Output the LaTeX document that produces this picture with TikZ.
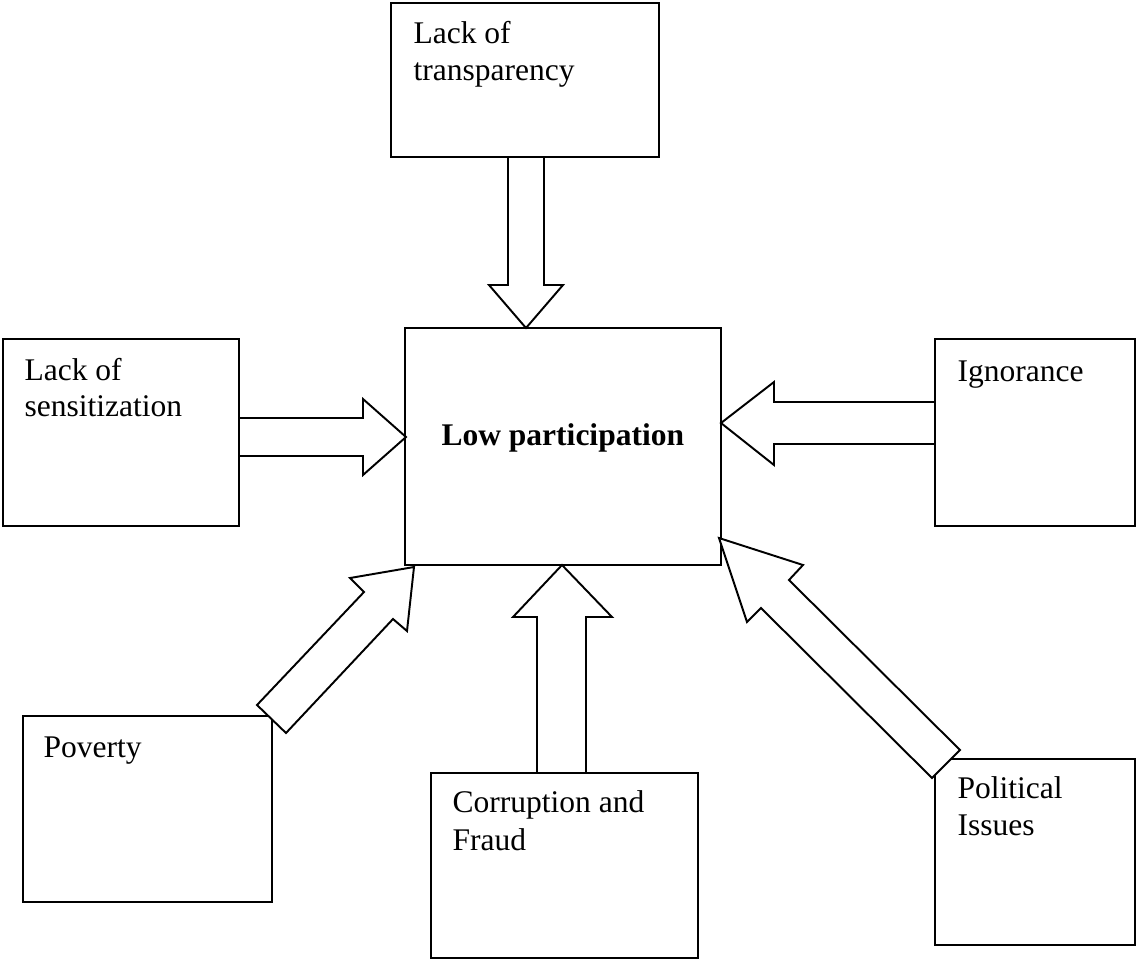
\documentclass[tikz,border=0pt]{standalone}
\usepackage{fontspec}
\setmainfont{Liberation Serif}
\begin{document}
\begin{tikzpicture}[x=0.387pt,y=-0.387pt,
  box/.style={draw=black,line width=0.75pt,fill=white},
  lbl/.style={anchor=base west,inner sep=0pt,font=\fontsize{12.2}{14.3}\selectfont},
  blockarrow/.style={draw=black,line width=0.75pt,fill=white,line join=miter}]
\useasboundingbox (0,0) rectangle (1137,960);
% boxes
\draw[box] (391,3) rectangle (659,157);
\draw[box] (3,339) rectangle (239,526);
\draw[box] (405,328) rectangle (721,565);
\draw[box] (935,339) rectangle (1135,526);
\draw[box] (23,716) rectangle (272,902);
\draw[box] (431,773) rectangle (698,958);
\draw[box] (935,759) rectangle (1135,945);
% texts
\node[lbl] (t1a) at (413,43) {Lack of};
\node[lbl] (t1b) at (413,80) {transparency};
\node[lbl] (t2a) at (24,380) {Lack of};
\node[lbl] (t2b) at (24,416) {sensitization};
\node[lbl] (t3) at (441,445) {\bfseries Low participation};
\node[lbl] (t4) at (957,381) {Ignorance};
\node[lbl] (t5) at (43,757) {Poverty};
\node[lbl] (t6a) at (452,812) {Corruption and};
\node[lbl] (t6b) at (452,850) {Fraud};
\node[lbl] (t7a) at (957,798) {Political};
\node[lbl] (t7b) at (957,835) {Issues};
% block arrows
\draw[blockarrow] (508,157) -- (508,285) -- (489,285) -- (526,328) -- (563,285) -- (544,285) -- (544,157) -- cycle;
\draw[blockarrow] (239,418) -- (363,418) -- (363,399) -- (406,437) -- (363,475) -- (363,456) -- (239,456) -- cycle;
\draw[blockarrow] (935,402) -- (774,402) -- (774,382) -- (721,423) -- (774,465) -- (774,444) -- (935,444) -- cycle;
\draw[blockarrow] (537,773) -- (537,617) -- (513,617) -- (562,565) -- (612,617) -- (586,617) -- (586,773) -- cycle;
\draw[blockarrow] (257,705) -- (364,592) -- (350,578) -- (414,567) -- (407,631) -- (393,619) -- (286,733) -- cycle;
\draw[blockarrow] (932,778) -- (761,608) -- (747,622) -- (719,538) -- (803,565) -- (789,580) -- (960,750) -- cycle;
\end{tikzpicture}
\end{document}
